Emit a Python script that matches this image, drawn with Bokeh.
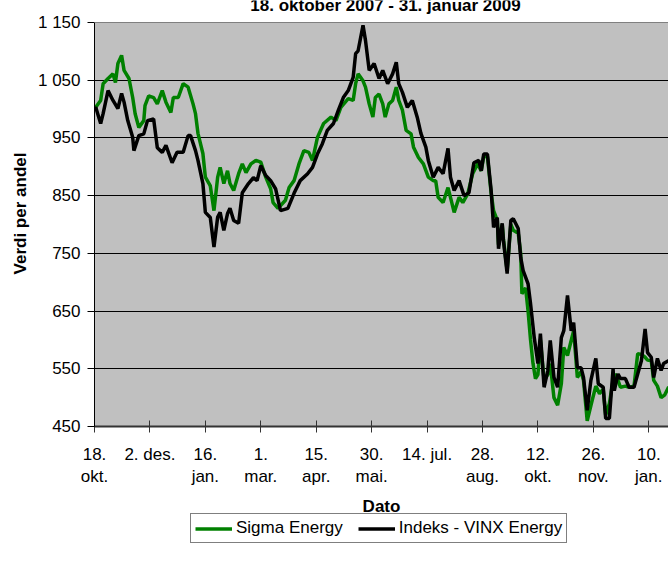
import pandas as pd
from bokeh.plotting import figure
from bokeh.layouts import column
from bokeh.models import FixedTicker, Legend, LegendItem, Grid, Label, Span, BoxAnnotation
from bokeh.embed import file_html
from bokeh.resources import INLINE

# ---------------- data ----------------
start_date = "2007-10-18"
end_date = "2009-01-26"
title_text = "18. oktober 2007 - 31. januar 2009"

tick_dates = ["2007-10-18", "2007-12-02", "2008-01-16", "2008-03-01", "2008-04-15",
              "2008-05-30", "2008-07-14", "2008-08-28", "2008-10-12", "2008-11-26",
              "2009-01-10"]
tick_labels = ["18.\nokt.", "2. des.", "16.\njan.", "1.\nmar.", "15.\napr.",
               "30.\nmai.", "14. jul.", "28.\naug.", "12.\nokt.", "26.\nnov.",
               "10.\njan."]
y_ticks = [450, 550, 650, 750, 850, 950, 1050, 1150]
y_tick_labels = ["450", "550", "650", "750", "850", "950", "1 050", "1 150"]

# days after 18 Oct 2007
vinx_days = [0, 1, 5, 7, 11, 15, 19, 22, 24, 27, 31, 32, 36, 40, 43, 48, 51, 55, 58, 63,
             67, 72, 76, 78, 82, 84, 88, 90, 94, 97, 100, 102, 105, 108, 110, 113, 117,
             120, 125, 129, 132, 135, 139, 143, 147, 151, 157, 162, 167, 173, 177, 181,
             185, 189, 194, 198, 202, 206, 210, 212, 214, 218, 220, 223, 227, 231, 234,
             238, 242, 245, 247, 250, 254, 258, 262, 265, 269, 271, 275, 279, 283, 287,
             289, 292, 296, 300, 304, 308, 312, 314, 316, 319, 322, 324, 327, 328, 331,
             332, 335, 338, 340, 344, 346, 348, 352, 354, 357, 360, 362, 365, 368, 370,
             373, 376, 379, 381, 384, 387, 389, 392, 395, 397, 400, 403, 407, 409, 413,
             415, 418, 421, 422, 425, 427, 431, 434, 438, 441, 444, 447, 449, 452, 454,
             457, 460, 462, 466, 470]
vinx_values = [1000, 1003, 975, 992, 1032, 1015, 1001, 1027, 1012, 980, 951, 928, 954, 957,
               980, 983, 933, 925, 937, 907, 925, 925, 954, 954, 928, 911, 871, 821, 812,
               761, 813, 821, 790, 819, 828, 807, 802, 855, 871, 881, 876, 902, 885, 876,
               862, 824, 828, 854, 876, 888, 899, 922, 940, 963, 975, 998, 1020, 1032, 1055,
               1096, 1101, 1145, 1119, 1067, 1079, 1053, 1067, 1044, 1061, 1081, 1044, 1029,
               1003, 1015, 986, 958, 934, 911, 882, 899, 888, 932, 882, 859, 876, 850, 855,
               907, 911, 893, 922, 922, 859, 795, 812, 758, 802, 772, 715, 807, 810, 793,
               743, 720, 697, 663, 604, 559, 611, 518, 547, 599, 535, 518, 604, 616, 677,
               616, 630, 552, 552, 535, 478, 530, 568, 524, 518, 464, 464, 550, 512, 541,
               533, 533, 518, 518, 541, 564, 619, 578, 570, 535, 568, 547, 559, 564, 555]

sigma_days = [0, 1, 5, 7, 11, 15, 17, 19, 22, 24, 28, 31, 33, 36, 40, 41, 44, 48, 51, 55,
              58, 62, 64, 68, 72, 76, 80, 82, 84, 88, 90, 93, 94, 97, 100, 102, 105, 108,
              110, 113, 117, 120, 123, 127, 131, 135, 139, 143, 145, 149, 155, 158, 162,
              166, 170, 174, 177, 181, 186, 192, 196, 200, 206, 210, 212, 214, 218, 220,
              223, 226, 228, 231, 234, 236, 239, 242, 245, 247, 250, 253, 257, 259, 263,
              267, 271, 275, 277, 279, 283, 287, 289, 292, 296, 299, 303, 307, 311, 314,
              316, 319, 322, 324, 327, 328, 331, 332, 335, 338, 340, 344, 346, 347, 350,
              352, 354, 356, 358, 360, 362, 365, 368, 370, 373, 376, 379, 381, 384, 387,
              389, 392, 395, 397, 400, 404, 407, 410, 413, 415, 418, 421, 423, 425, 427,
              431, 434, 438, 441, 444, 447, 449, 452, 454, 457, 460, 463, 466, 470]
sigma_values = [1000, 1003, 1015, 1044, 1053, 1061, 1046, 1079, 1093, 1067, 1053, 1020, 992,
                968, 980, 1006, 1023, 1020, 1009, 1032, 1012, 994, 1020, 1020, 1044, 1038,
                1009, 992, 958, 923, 882, 871, 867, 824, 882, 899, 871, 893, 871, 859, 888,
                905, 890, 905, 911, 908, 882, 862, 838, 828, 842, 864, 876, 905, 928, 925,
                911, 951, 975, 986, 980, 1003, 1018, 1015, 1044, 1061, 1049, 1038, 1009,
                986, 1020, 1026, 1009, 986, 1009, 1015, 1038, 1015, 998, 963, 957, 934, 916,
                905, 882, 876, 876, 847, 838, 864, 847, 821, 847, 838, 853, 888, 905, 893,
                918, 918, 855, 824, 807, 765, 800, 775, 720, 800, 790, 785, 750, 680, 690,
                650, 600, 559, 533, 540, 600, 530, 540, 559, 500, 487, 524, 587, 573, 599,
                616, 535, 545, 530, 460, 495, 520, 507, 515, 470, 490, 530, 541, 530, 518,
                520, 518, 520, 576, 575, 570, 565, 564, 530, 520, 500, 505, 518, 515]

# ---------------- layout constants ----------------
FONT = "Liberation Sans"
FS = "17px"
FRAME_W, FRAME_H = 574, 426          # frame includes a strip above 1 150 for the cut title
PLOT_H = 404                          # pixels between 450 and 1 150
Y_MIN, Y_MAX = 450, 1150
Y_TOP = Y_MAX + (FRAME_H - PLOT_H) * (Y_MAX - Y_MIN) / PLOT_H

t0 = pd.Timestamp(start_date)
t1 = pd.Timestamp(end_date)
EPOCH = pd.Timestamp("1970-01-01")


def ms(ts):
    return (ts - EPOCH) / pd.Timedelta(milliseconds=1)


vinx_dates = [t0 + pd.Timedelta(days=d) for d in vinx_days]
sigma_dates = [t0 + pd.Timedelta(days=d) for d in sigma_days]

p = figure(frame_width=FRAME_W, frame_height=FRAME_H, x_axis_type="datetime",
           x_range=(t0, t1), y_range=(Y_MIN, Y_TOP),
           output_backend="svg", toolbar_location=None,
           min_border_left=94, min_border_right=0, min_border_top=0,
           min_border_bottom=88)
p.background_fill_color = "white"
p.border_fill_color = "white"
p.outline_line_color = None
p.grid.visible = False

# grey plot area between 450 and 1150
p.add_layout(BoxAnnotation(bottom=Y_MIN, top=Y_MAX, fill_color="#C0C0C0", fill_alpha=1.0,
                           line_color=None, level="image"))
p.add_layout(Grid(dimension=1, ticker=FixedTicker(ticks=y_ticks[1:-1]),
                  grid_line_color="black", grid_line_width=1))
p.add_layout(Span(location=Y_MAX, dimension="width", line_color="#808080", line_width=1))

p.line(sigma_dates, sigma_values, line_color="#008000", line_width=3.5)
p.line(vinx_dates, vinx_values, line_color="#000000", line_width=3.5)

# title (cut at the top edge as in the original)
px_per_ms = FRAME_W / (ms(t1) - ms(t0))
title_x = ms(t0) + (385 - 94) / px_per_ms
title_y = Y_TOP - 5 * (Y_TOP - Y_MIN) / FRAME_H
p.add_layout(Label(x=title_x, y=title_y, text=title_text, text_font=FONT,
                   text_font_size=FS, text_font_style="bold", text_align="center",
                   text_baseline="alphabetic", text_color="black"))

# x axis
tick_ms = [ms(pd.Timestamp(d)) for d in tick_dates]
xa = p.xaxis[0]
xa.ticker = FixedTicker(ticks=tick_ms)
xa.major_label_overrides = {t: l for t, l in zip(tick_ms, tick_labels)}
xa.major_label_text_font = FONT
xa.major_label_text_font_size = FS
xa.major_label_text_color = "black"
xa.major_tick_in = 6
xa.major_tick_out = 6
xa.minor_tick_line_color = None
xa.axis_line_color = "#333333"
xa.axis_line_width = 2
xa.major_tick_line_color = "#333333"
xa.major_label_standoff = 12
xa.axis_label = "Dato"
xa.axis_label_text_font = FONT
xa.axis_label_text_font_size = FS
xa.axis_label_text_font_style = "bold"
xa.axis_label_text_color = "black"
xa.axis_label_standoff = 8

# y axis
ya = p.yaxis[0]
ya.ticker = FixedTicker(ticks=y_ticks)
ya.bounds = (Y_MIN, Y_MAX)
ya.major_label_overrides = {t: l for t, l in zip(y_ticks, y_tick_labels)}
ya.major_label_text_font = FONT
ya.major_label_text_font_size = FS
ya.major_label_text_color = "black"
ya.major_tick_in = 0
ya.major_tick_out = 7
ya.minor_tick_line_color = None
ya.axis_line_color = "black"
ya.major_label_standoff = 7
ya.axis_label = "Verdi per andel"
ya.axis_label_text_font = FONT
ya.axis_label_text_font_size = FS
ya.axis_label_text_font_style = "bold"
ya.axis_label_text_color = "black"
ya.axis_label_standoff = 5

# ---------------- legend strip (transparent, directly under "Dato") ----------------
leg = figure(width=668, height=45, x_range=(0, 1), y_range=(0, 1),
             output_backend="svg", toolbar_location=None,
             x_axis_location=None, y_axis_location=None,
             min_border_left=0, min_border_right=0, min_border_top=0, min_border_bottom=0,
             margin=(-8, 0, 0, 0))
leg.outline_line_color = None
leg.grid.visible = False
leg.background_fill_color = None
leg.border_fill_color = None
# same series, outside this strip's ranges: only their legend glyphs show
lg = leg.line(sigma_dates, sigma_values, line_color="#008000", line_width=3.5)
lb = leg.line(vinx_dates, vinx_values, line_color="#000000", line_width=3.5)

legend = Legend(items=[LegendItem(label="Sigma Energy", renderers=[lg]),
                       LegendItem(label="Indeks - VINX Energy", renderers=[lb])],
                orientation="horizontal", location=(96, 13),
                label_text_font=FONT, label_text_font_size=FS, label_text_color="black",
                glyph_width=37, glyph_height=17, label_height=17,
                label_standoff=4, spacing=15, padding=4, margin=0,
                border_line_color="black", border_line_width=1,
                background_fill_color="white", background_fill_alpha=1.0)
leg.add_layout(legend)

layout = column(p, leg, spacing=0)
open("out.html", "w").write(file_html(layout, INLINE))
